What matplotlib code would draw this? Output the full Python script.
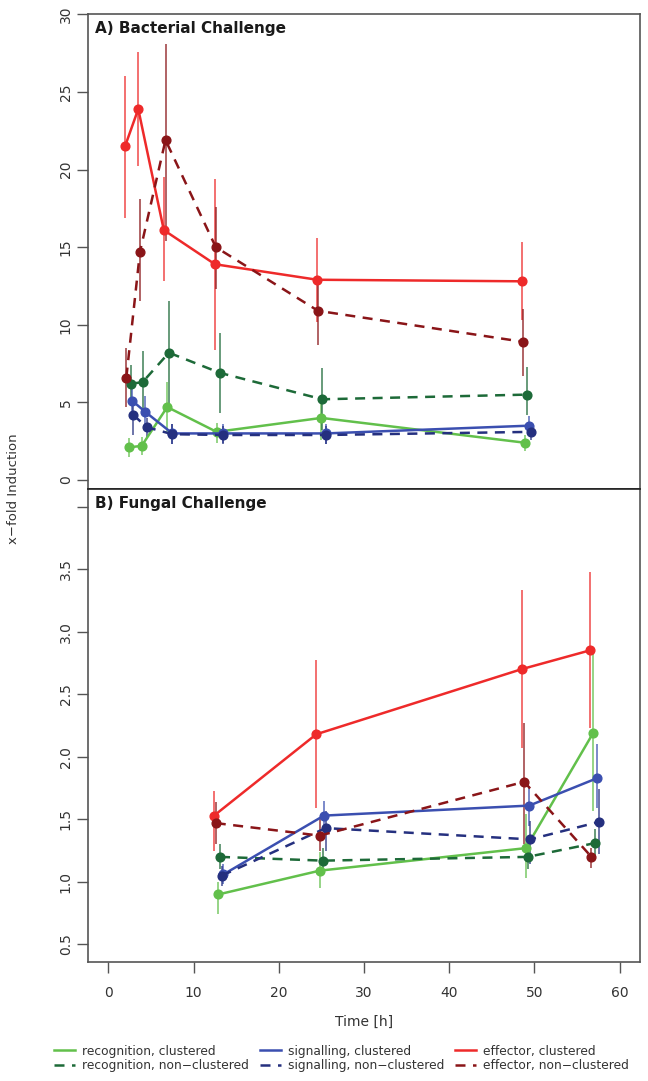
import numpy as np
import matplotlib
matplotlib.use("Agg")
import matplotlib.pyplot as plt
from matplotlib.lines import Line2D

# A) bacterial challenge
bac_rec_cl_t = [2.4, 3.9, 6.9, 12.7, 25.0, 48.9]
bac_rec_cl_y = [2.1, 2.2, 4.7, 3.1, 4.0, 2.4]
bac_rec_cl_lo = [1.5, 1.6, 3.1, 2.4, 2.6, 1.9]
bac_rec_cl_hi = [2.7, 2.8, 6.3, 3.7, 5.5, 2.9]

bac_rec_nc_t = [2.6, 4.0, 7.1, 13.1, 25.1, 49.1]
bac_rec_nc_y = [6.2, 6.3, 8.2, 6.9, 5.2, 5.5]
bac_rec_nc_lo = [5.0, 4.4, 4.9, 4.3, 3.2, 4.2]
bac_rec_nc_hi = [7.4, 8.3, 11.5, 9.5, 7.2, 7.3]

bac_sig_cl_t = [2.8, 4.3, 7.5, 13.4, 25.5, 49.4]
bac_sig_cl_y = [5.1, 4.4, 3.0, 3.0, 3.0, 3.5]
bac_sig_cl_lo = [4.1, 3.2, 2.3, 2.4, 2.3, 2.9]
bac_sig_cl_hi = [6.0, 5.4, 3.6, 3.6, 3.6, 4.1]

bac_sig_nc_t = [2.9, 4.5, 7.5, 13.4, 25.5, 49.6]
bac_sig_nc_y = [4.2, 3.4, 2.95, 2.9, 2.9, 3.1]
bac_sig_nc_lo = [2.9, 2.8, 2.3, 2.3, 2.3, 2.6]
bac_sig_nc_hi = [5.0, 4.0, 3.6, 3.5, 3.5, 3.6]

bac_eff_cl_t = [1.95, 3.5, 6.5, 12.5, 24.5, 48.5]
bac_eff_cl_y = [21.5, 23.9, 16.1, 13.9, 12.9, 12.8]
bac_eff_cl_lo = [16.9, 20.2, 12.8, 8.4, 10.2, 10.3]
bac_eff_cl_hi = [26.0, 27.6, 19.5, 19.4, 15.6, 15.3]

bac_eff_nc_t = [2.1, 3.7, 6.7, 12.6, 24.6, 48.7]
bac_eff_nc_y = [6.6, 14.7, 21.9, 15.0, 10.9, 8.9]
bac_eff_nc_lo = [4.7, 11.5, 15.4, 12.3, 8.7, 6.7]
bac_eff_nc_hi = [8.5, 18.1, 28.1, 17.6, 13.0, 11.0]

# B) fungal challenge
fun_rec_cl_t = [12.9, 24.8, 49.0, 56.9]
fun_rec_cl_y = [0.9, 1.09, 1.27, 2.19]
fun_rec_cl_lo = [0.74, 0.95, 1.03, 1.57]
fun_rec_cl_hi = [1.0, 1.24, 1.54, 2.87]

fun_rec_nc_t = [13.1, 25.2, 49.2, 57.1]
fun_rec_nc_y = [1.2, 1.17, 1.2, 1.31]
fun_rec_nc_lo = [1.1, 1.07, 1.1, 1.2]
fun_rec_nc_hi = [1.3, 1.27, 1.3, 1.42]

fun_sig_cl_t = [13.5, 25.3, 49.4, 57.4]
fun_sig_cl_y = [1.06, 1.53, 1.61, 1.83]
fun_sig_cl_lo = [0.98, 1.41, 1.45, 1.59]
fun_sig_cl_hi = [1.14, 1.65, 1.77, 2.1]

fun_sig_nc_t = [13.3, 25.5, 49.5, 57.6]
fun_sig_nc_y = [1.05, 1.43, 1.34, 1.48]
fun_sig_nc_lo = [0.97, 1.25, 1.14, 1.22]
fun_sig_nc_hi = [1.13, 1.57, 1.49, 1.74]

fun_eff_cl_t = [12.4, 24.4, 48.5, 56.5]
fun_eff_cl_y = [1.53, 2.18, 2.70, 2.85]
fun_eff_cl_lo = [1.25, 1.59, 2.07, 2.23]
fun_eff_cl_hi = [1.73, 2.77, 3.33, 3.48]

fun_eff_nc_t = [12.6, 24.8, 48.8, 56.7]
fun_eff_nc_y = [1.47, 1.37, 1.80, 1.20]
fun_eff_nc_lo = [1.3, 1.25, 1.3, 1.11]
fun_eff_nc_hi = [1.64, 1.5, 2.27, 1.27]

labels = ["recognition, clustered", "recognition, non\u2212clustered",
          "signalling, clustered", "signalling, non\u2212clustered",
          "effector, clustered", "effector, non\u2212clustered"]
colors = ["#62C04B", "#1D6A38", "#3B4FB0", "#25307F", "#EE2A2A", "#8A1518"]
styles = ["-", (0, (4, 3)), "-", (0, (4, 3)), "-", (0, (4, 3))]

bac = [(bac_rec_cl_t, bac_rec_cl_y, bac_rec_cl_lo, bac_rec_cl_hi),
       (bac_rec_nc_t, bac_rec_nc_y, bac_rec_nc_lo, bac_rec_nc_hi),
       (bac_sig_cl_t, bac_sig_cl_y, bac_sig_cl_lo, bac_sig_cl_hi),
       (bac_sig_nc_t, bac_sig_nc_y, bac_sig_nc_lo, bac_sig_nc_hi),
       (bac_eff_cl_t, bac_eff_cl_y, bac_eff_cl_lo, bac_eff_cl_hi),
       (bac_eff_nc_t, bac_eff_nc_y, bac_eff_nc_lo, bac_eff_nc_hi)]
fun = [(fun_rec_cl_t, fun_rec_cl_y, fun_rec_cl_lo, fun_rec_cl_hi),
       (fun_rec_nc_t, fun_rec_nc_y, fun_rec_nc_lo, fun_rec_nc_hi),
       (fun_sig_cl_t, fun_sig_cl_y, fun_sig_cl_lo, fun_sig_cl_hi),
       (fun_sig_nc_t, fun_sig_nc_y, fun_sig_nc_lo, fun_sig_nc_hi),
       (fun_eff_cl_t, fun_eff_cl_y, fun_eff_cl_lo, fun_eff_cl_hi),
       (fun_eff_nc_t, fun_eff_nc_y, fun_eff_nc_lo, fun_eff_nc_hi)]

fig = plt.figure(figsize=(6.48, 10.81), dpi=100)
W, H = 648, 1081
ax1 = fig.add_axes([88 / W, 1 - 489 / H, (640 - 88) / W, (489 - 14) / H])
ax2 = fig.add_axes([88 / W, 1 - 962 / H, (640 - 88) / W, (962 - 489) / H])


def draw(ax, series):
    for (t, y, lo, hi), c, ls in zip(series, colors, styles):
        ax.vlines(t, lo, hi, color=c, lw=1.1, alpha=0.85, zorder=2)
        ax.plot(t, y, color=c, ls=ls, lw=1.8, marker="o", ms=6.3, zorder=3)


draw(ax1, bac)
draw(ax2, fun)

for ax in (ax1, ax2):
    ax.set_xlim(-2.4, 62.4)
    for s in ax.spines.values():
        s.set_color("#555555")
        s.set_linewidth(1.2)
    ax.tick_params(axis="y", direction="out", length=8, width=1, color="#555555",
                   labelsize=10, labelcolor="#333333", labelrotation=90, pad=3)

ax1.set_ylim(-0.58, 30.02)
ax1.set_yticks([0, 5, 10, 15, 20, 25, 30])
ax1.set_xticks([])
ax1.spines["bottom"].set_color("#222222")
for lab in ax1.get_yticklabels():
    lab.set_va("center")

ax2.set_ylim(0.36, 4.14)
ax2.set_yticks([0.5, 1.0, 1.5, 2.0, 2.5, 3.0, 3.5, 4.0])
ax2.set_yticklabels(["0.5", "1.0", "1.5", "2.0", "2.5", "3.0", "3.5", ""])
for lab in ax2.get_yticklabels():
    lab.set_va("center")
ax2.set_xticks([0, 10, 20, 30, 40, 50, 60])
ax2.tick_params(axis="x", direction="out", length=8, width=1, color="#555555",
                labelsize=10, labelcolor="#333333", pad=9)
ax2.spines["top"].set_color("#222222")

ax1.text(0.012, 0.985, "A) Bacterial Challenge", transform=ax1.transAxes,
         fontsize=11, fontweight="bold", va="top", ha="left", color="#1a1a1a")
ax2.text(0.012, 0.985, "B) Fungal Challenge", transform=ax2.transAxes,
         fontsize=11, fontweight="bold", va="top", ha="left", color="#1a1a1a")

fig.text(14 / W, 1 - 489 / H, "x\u2212fold Induction", rotation=90, fontsize=9.5,
         ha="center", va="center", color="#333333")
ax2.set_xlabel("Time [h]", fontsize=10, color="#333333", labelpad=11)

handles = [Line2D([], [], color=c, ls=ls, lw=1.8) for c, ls in zip(colors, styles)]
fig.legend(handles, labels, ncol=3, loc="lower center", bbox_to_anchor=(0.527, -0.002),
           frameon=False, fontsize=8.8, handlelength=1.7, handletextpad=0.6,
           columnspacing=0.9, labelspacing=0.12, labelcolor="#333333")

fig.savefig("out.png", dpi=100)
